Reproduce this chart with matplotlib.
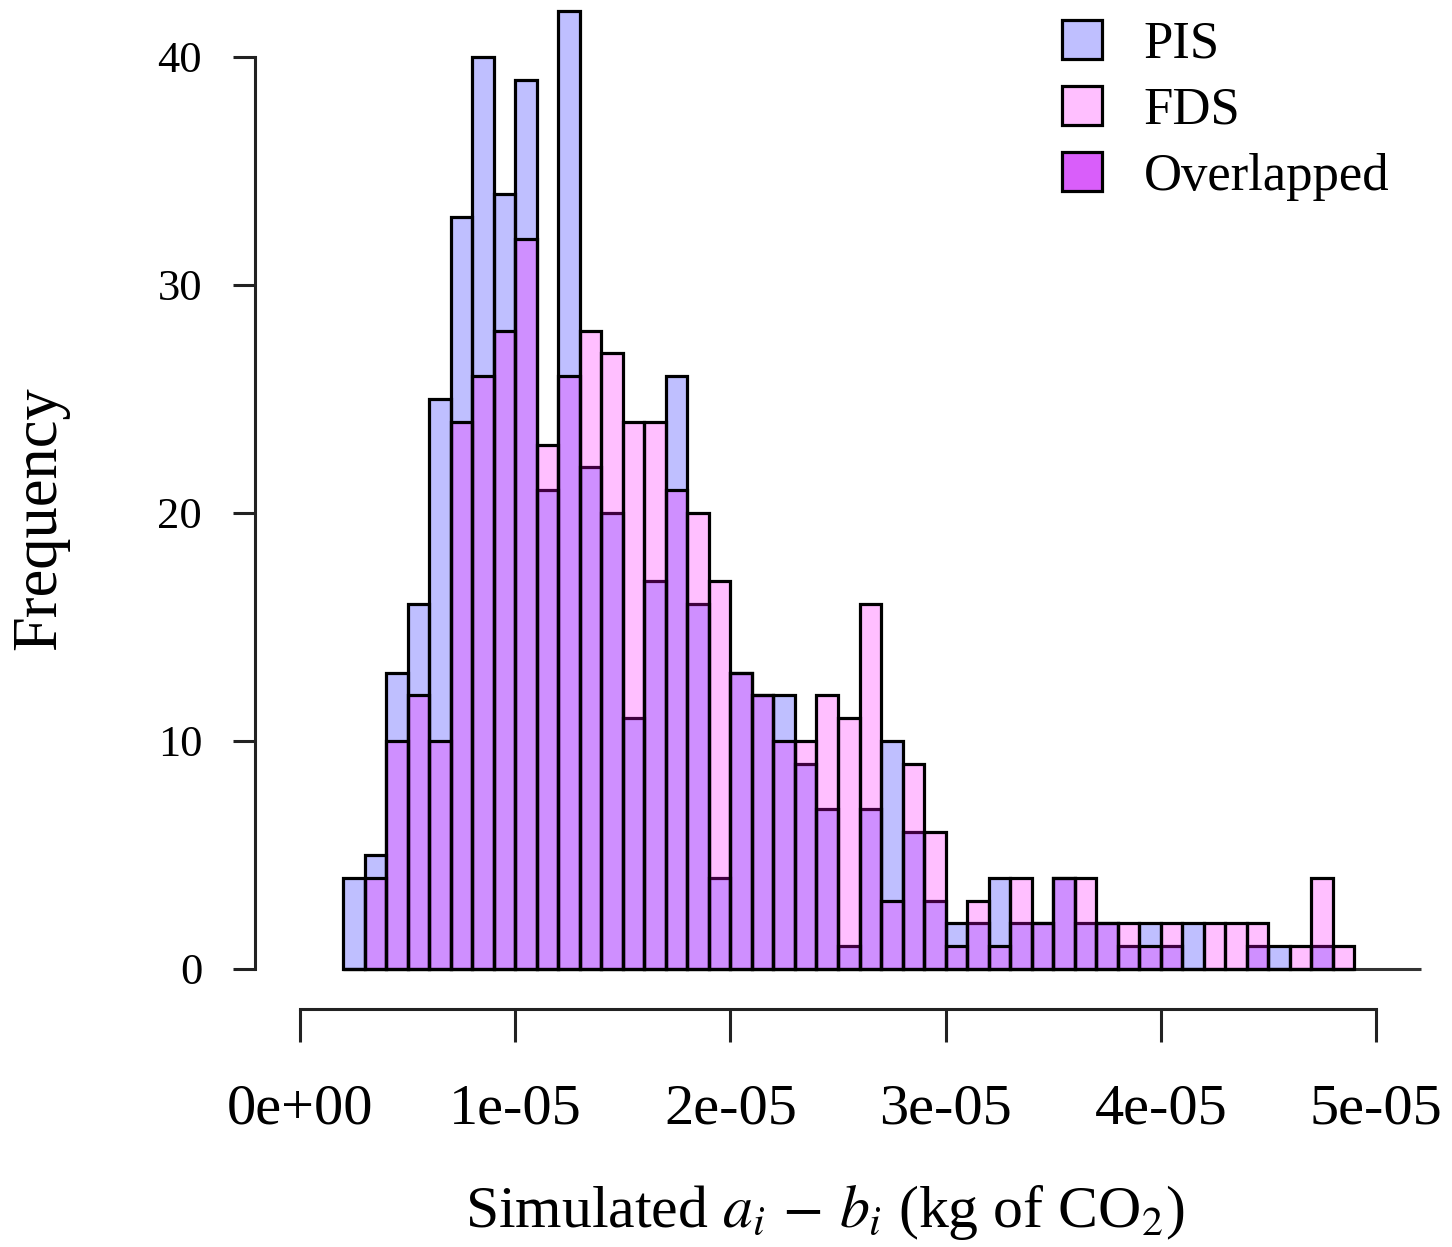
import matplotlib
matplotlib.use("Agg")
import matplotlib.pyplot as plt
from matplotlib.patches import Patch
import numpy as np

plt.rcParams['font.family'] = ['Liberation Serif', 'DejaVu Serif']
plt.rcParams['mathtext.fontset'] = 'stix'

# histogram counts, bins of width 1e-06 starting at 2e-06
bin_start = 2e-06
bin_width = 1e-06
pis_counts = [4, 5, 13, 16, 25, 33, 40, 34, 39, 21, 42, 22, 20, 11, 17, 26, 16, 4,
              13, 12, 12, 9, 7, 1, 7, 10, 6, 3, 2, 2, 4, 2, 2, 4, 2, 2, 1, 2, 1, 2,
              0, 0, 1, 1, 0, 1, 0]
fds_counts = [0, 4, 10, 12, 10, 24, 26, 28, 32, 23, 26, 28, 27, 24, 24, 21, 20, 17,
              13, 12, 10, 10, 12, 11, 16, 3, 9, 6, 1, 3, 1, 4, 2, 4, 4, 2, 2, 1, 2, 0,
              2, 2, 2, 0, 1, 4, 1]
legend_labels = ['PIS', 'FDS', 'Overlapped']
xticks = [0, 1e-05, 2e-05, 3e-05, 4e-05, 5e-05]
xtick_labels = ['0e+00', '1e-05', '2e-05', '3e-05', '4e-05', '5e-05']
yticks = [0, 10, 20, 30, 40]

W, H = 1452, 1247
fig = plt.figure(figsize=(W / 100, H / 100), dpi=100)
ax = fig.add_axes([0, 0, 1, 1])

# pixel mapping of the reference: x 0 -> 300px, 5e-05 -> 1376px ; y 0 -> 969px, 40 -> 57px
px_per_x = (1376 - 300) / 5e-05
px_per_y = (969 - 57) / 40
ax.set_xlim(-300 / px_per_x, (W - 300) / px_per_x)
ax.set_ylim(-(H - 969) / px_per_y, 969 / px_per_y)

lefts = bin_start + bin_width * np.arange(len(pis_counts))
pis_col = (0, 0, 1, 0.25)
fds_col = (1, 0, 1, 0.25)

ax.plot([bin_start, 5.21e-05], [0, 0], color='#333333', lw=2.2, zorder=1,
        solid_capstyle='butt')
ax.bar(lefts, pis_counts, width=bin_width, align='edge', color=pis_col,
       edgecolor='black', linewidth=2.3, zorder=2)
ax.bar(lefts, fds_counts, width=bin_width, align='edge', color=fds_col,
       edgecolor='black', linewidth=2.3, zorder=3)

# R style detached axes
for s in ['top', 'right']:
    ax.spines[s].set_visible(False)
ax.spines['left'].set_position(('data', (255 - 300) / px_per_x))
ax.spines['left'].set_bounds(0, 40)
ax.spines['bottom'].set_position(('data', (969 - 1009) / px_per_y))
ax.spines['bottom'].set_bounds(0, 5e-05)
for s in ['left', 'bottom']:
    ax.spines[s].set_linewidth(2.2)
    ax.spines[s].set_color('#222222')

ax.set_xticks(xticks)
ax.set_xticklabels(xtick_labels)
ax.set_yticks(yticks)
ax.set_yticklabels([str(v) for v in yticks])
ax.tick_params(axis='x', length=24, width=2.2, pad=30, labelsize=42, color='#222222')
ax.tick_params(axis='y', length=16, width=2.2, pad=22, labelsize=32, color='#222222')

fig.text(40 / W, 1 - 518 / H, 'Frequency', rotation=90, ha='center', va='center',
         fontsize=45)
fig.text(825 / W, 1 - 1212 / H, r'Simulated $a_i\,-\,b_i$ (kg of CO$_2$)',
         ha='center', va='center', fontsize=43)

handles = [Patch(facecolor='#BFBFFF', edgecolor='black', linewidth=2.3),
           Patch(facecolor='#FFBFFF', edgecolor='black', linewidth=2.3),
           Patch(facecolor='#D95EFA', edgecolor='black', linewidth=2.3)]
ax.legend(handles, legend_labels, loc='upper left', bbox_to_anchor=(1025 / W, 1 + 17 / H),
          bbox_transform=fig.transFigure, frameon=False, fontsize=38,
          handlelength=0.75, handleheight=0.75, handletextpad=0.8, labelspacing=0.33,
          borderpad=0.2)

fig.savefig('out.png', dpi=100)
